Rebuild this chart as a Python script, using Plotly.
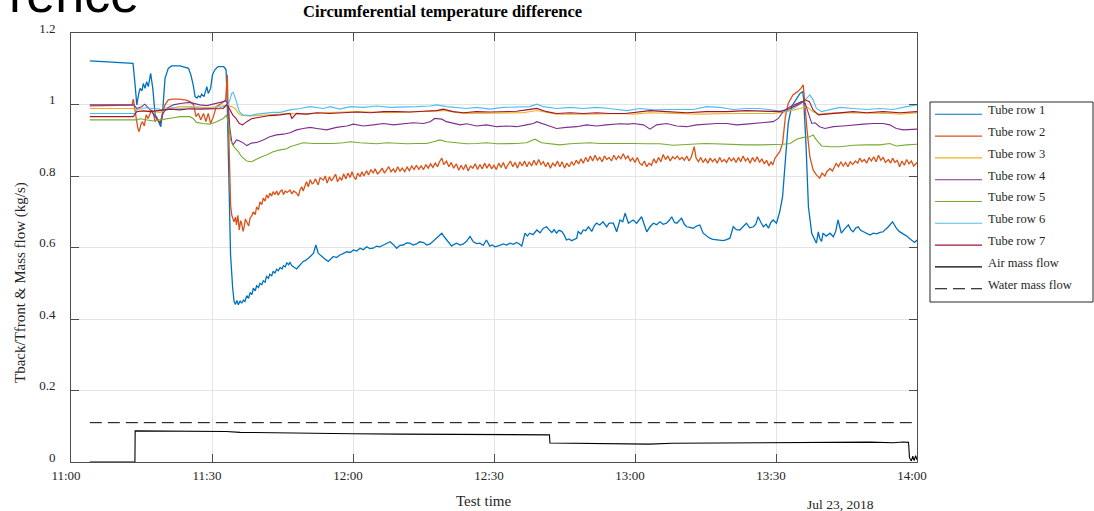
import datetime as dt
import plotly.graph_objects as go

# Test day and the clock time (minutes after 11:00) of every sample
START = dt.datetime(2018, 7, 23, 11, 0)

# (minutes after 11:00, Tback/Tfront)
TUBE_ROW_1 = [
    (4.0, 1.122), (8.0, 1.119), (13.2, 1.115), (13.6, 1.060), (14.0, 0.999), (14.4, 1.030),
    (14.7, 1.045), (15.1, 1.038), (15.4, 1.059), (15.75, 1.045), (16.1, 1.064), (16.45, 1.050),
    (16.95, 1.087), (17.4, 1.045), (17.9, 0.971), (18.3, 0.962), (18.6, 0.952), (18.9, 0.945),
    (19.1, 0.938), (19.5, 0.980), (20.0, 1.073), (20.7, 1.101), (21.4, 1.108), (23.2, 1.108),
    (25.0, 1.101), (25.5, 1.083), (26.0, 1.055), (26.4, 1.022), (26.8, 1.018), (27.1, 1.024),
    (27.5, 1.020), (27.8, 1.029), (28.3, 1.022), (28.9, 1.050), (29.2, 1.031), (29.7, 1.045),
    (30.1, 1.083), (30.6, 1.097), (31.3, 1.106), (32.5, 1.106), (33.0, 1.097), (33.25, 0.999),
    (33.6, 0.766), (33.95, 0.579), (34.4, 0.486), (34.7, 0.449), (35.0, 0.441), (35.3, 0.452),
    (35.6, 0.440), (36.0, 0.451), (36.3, 0.444), (36.7, 0.453), (37.0, 0.449), (37.4, 0.465),
    (37.8, 0.458), (38.1, 0.474), (38.5, 0.468), (38.8, 0.486), (39.2, 0.479), (39.5, 0.493),
    (39.9, 0.488), (40.2, 0.500), (40.6, 0.496), (40.9, 0.507), (41.3, 0.503), (41.6, 0.519),
    (42.0, 0.514), (42.3, 0.525), (42.7, 0.521), (43.0, 0.533), (43.4, 0.529), (43.75, 0.539),
    (44.1, 0.535), (44.5, 0.544), (44.9, 0.540), (45.2, 0.549), (45.6, 0.546), (45.9, 0.557),
    (46.3, 0.552), (46.6, 0.558), (47.0, 0.549), (47.5, 0.545), (48.0, 0.540), (48.4, 0.546),
    (48.7, 0.551), (49.1, 0.556), (49.4, 0.561), (49.8, 0.563), (50.1, 0.565), (50.5, 0.570),
    (50.9, 0.575), (51.3, 0.580), (51.6, 0.584), (52.1, 0.607), (52.6, 0.584), (53.1, 0.578),
    (53.7, 0.570), (54.2, 0.566), (54.75, 0.561), (55.3, 0.568), (55.8, 0.575), (56.5, 0.572),
    (57.2, 0.579), (57.9, 0.583), (58.65, 0.588), (59.4, 0.586), (60.1, 0.593), (60.8, 0.590),
    (61.5, 0.598), (62.2, 0.594), (62.9, 0.602), (63.6, 0.597), (64.3, 0.598), (65.0, 0.604),
    (65.7, 0.602), (66.5, 0.607), (67.2, 0.612), (67.9, 0.616), (68.6, 0.608), (69.3, 0.598),
    (70.0, 0.606), (70.7, 0.607), (71.4, 0.613), (72.1, 0.612), (72.8, 0.607), (73.5, 0.610),
    (74.2, 0.616), (75.0, 0.614), (75.7, 0.607), (76.4, 0.610), (77.1, 0.618), (77.8, 0.626),
    (78.4, 0.635), (78.9, 0.640), (79.4, 0.630), (79.9, 0.621), (80.5, 0.610), (81.0, 0.604),
    (81.5, 0.609), (82.05, 0.612), (82.8, 0.607), (83.5, 0.610), (84.2, 0.618), (84.9, 0.631),
    (85.6, 0.616), (86.3, 0.611), (87.0, 0.612), (87.7, 0.606), (88.4, 0.621), (89.1, 0.604),
    (89.6, 0.607), (90.2, 0.602), (91.1, 0.605), (92.0, 0.610), (92.7, 0.607), (93.4, 0.612),
    (94.1, 0.609), (94.8, 0.614), (95.4, 0.610), (95.9, 0.604), (96.6, 0.640), (97.1, 0.632),
    (97.6, 0.640), (98.3, 0.636), (99.1, 0.649), (99.8, 0.641), (100.5, 0.654), (101.2, 0.658),
    (101.7, 0.650), (102.3, 0.642), (102.8, 0.650), (103.3, 0.640), (103.8, 0.648), (104.4, 0.645),
    (104.9, 0.636), (105.4, 0.621), (106.0, 0.624), (106.5, 0.619), (107.0, 0.622), (107.6, 0.626),
    (107.9, 0.645), (108.5, 0.638), (109.0, 0.649), (109.5, 0.647), (110.1, 0.658), (110.8, 0.645),
    (111.3, 0.660), (111.8, 0.668), (112.5, 0.663), (113.2, 0.672), (113.97, 0.658), (114.5, 0.668),
    (115.39, 0.668), (116.1, 0.644), (116.8, 0.677), (117.4, 0.672), (117.9, 0.696), (118.6, 0.668),
    (119.6, 0.677), (120.35, 0.668), (121.4, 0.686), (122.0, 0.660), (122.5, 0.644), (123.2, 0.658),
    (123.9, 0.668), (124.6, 0.664), (125.3, 0.672), (126.0, 0.665), (126.7, 0.668), (127.3, 0.676),
    (127.8, 0.686), (128.4, 0.670), (128.9, 0.668), (129.4, 0.675), (129.9, 0.682), (130.5, 0.665),
    (131.0, 0.658), (131.7, 0.656), (132.4, 0.654), (133.1, 0.660), (133.8, 0.663), (134.5, 0.640),
    (135.2, 0.632), (135.9, 0.626), (136.6, 0.623), (137.4, 0.621), (138.1, 0.620), (138.8, 0.619),
    (139.5, 0.622), (140.2, 0.626), (140.9, 0.658), (141.6, 0.650), (142.3, 0.649), (143.0, 0.660),
    (143.7, 0.668), (144.4, 0.655), (145.2, 0.658), (145.7, 0.665), (146.2, 0.686), (146.8, 0.670),
    (147.3, 0.658), (147.9, 0.665), (148.4, 0.654), (148.9, 0.670), (149.4, 0.677), (150.1, 0.668),
    (150.8, 0.700), (151.4, 0.742), (151.9, 0.835), (152.6, 0.947), (153.3, 0.994), (154.4, 1.017),
    (155.1, 1.031), (155.7, 1.036), (155.9, 1.013), (156.4, 0.882), (156.9, 0.714), (157.6, 0.640),
    (158.3, 0.621), (158.6, 0.612), (159.0, 0.644), (159.3, 0.626), (159.7, 0.617), (160.0, 0.640),
    (160.7, 0.632), (161.5, 0.640), (162.2, 0.630), (162.7, 0.645), (163.2, 0.677), (163.9, 0.640),
    (164.6, 0.652), (165.4, 0.663), (165.9, 0.650), (166.4, 0.644), (167.0, 0.655), (167.5, 0.658),
    (168.0, 0.648), (168.6, 0.644), (169.3, 0.638), (170.0, 0.635), (170.7, 0.640), (171.4, 0.638),
    (172.1, 0.642), (172.8, 0.644), (173.4, 0.652), (173.9, 0.658), (174.8, 0.672), (175.6, 0.654),
    (176.2, 0.645), (176.7, 0.640), (177.3, 0.636), (177.8, 0.632), (178.3, 0.625), (178.8, 0.621),
    (179.5, 0.614), (180.0, 0.621),
]

TUBE_ROW_2 = [
    (4.0, 0.996), (8.0, 0.997), (13.0, 0.998), (13.26, 1.015), (13.5, 0.990), (13.9, 0.960),
    (14.2, 0.935), (14.5, 0.924), (14.9, 0.945), (15.2, 0.952), (15.6, 0.940), (16.0, 0.971),
    (16.4, 0.961), (16.8, 0.975), (17.2, 0.985), (17.6, 0.970), (17.9, 0.952), (18.4, 0.960),
    (18.9, 0.948), (19.3, 0.965), (19.7, 0.985), (20.0, 0.999), (20.7, 1.013), (21.5, 1.015),
    (23.0, 1.015), (24.5, 1.012), (25.3, 1.008), (26.1, 0.999), (26.6, 0.966), (27.1, 0.975),
    (27.6, 0.957), (28.2, 0.975), (28.7, 0.952), (29.2, 0.975), (29.7, 0.947), (30.3, 0.966),
    (30.9, 0.994), (32.0, 1.003), (32.9, 1.013), (33.25, 1.083), (33.5, 0.952), (33.75, 0.812),
    (33.96, 0.719), (34.2, 0.691), (34.67, 0.672), (35.0, 0.685), (35.2, 0.663), (35.5, 0.690),
    (35.8, 0.649), (36.1, 0.675), (36.3, 0.668), (36.6, 0.645), (36.8, 0.654), (37.1, 0.680),
    (37.4, 0.672), (37.8, 0.660), (38.1, 0.682), (38.5, 0.690), (38.8, 0.700), (39.2, 0.692),
    (39.5, 0.714), (39.9, 0.705), (40.2, 0.728), (40.6, 0.720), (40.9, 0.738), (41.3, 0.730),
    (41.6, 0.747), (42.0, 0.738), (42.3, 0.752), (42.7, 0.744), (43.0, 0.756), (43.4, 0.748),
    (43.75, 0.758), (44.1, 0.746), (44.5, 0.756), (44.9, 0.762), (45.2, 0.748), (45.6, 0.758),
    (46.0, 0.754), (46.6, 0.761), (47.0, 0.750), (47.4, 0.758), (48.0, 0.752), (48.4, 0.744),
    (48.7, 0.760), (49.1, 0.770), (49.4, 0.758), (49.8, 0.775), (50.1, 0.784), (50.5, 0.770),
    (50.9, 0.790), (51.3, 0.778), (51.6, 0.780), (52.0, 0.792), (52.6, 0.775), (53.0, 0.795),
    (53.7, 0.789), (54.1, 0.800), (54.5, 0.780), (55.0, 0.798), (55.4, 0.786), (55.8, 0.794),
    (56.3, 0.805), (56.7, 0.784), (57.2, 0.796), (57.6, 0.788), (58.0, 0.806), (58.5, 0.792),
    (58.9, 0.808), (59.4, 0.796), (59.8, 0.812), (60.1, 0.800), (60.6, 0.790), (61.0, 0.808),
    (61.5, 0.798), (61.9, 0.812), (62.3, 0.800), (62.9, 0.815), (63.3, 0.803), (63.8, 0.818),
    (64.3, 0.808), (64.7, 0.820), (65.2, 0.806), (65.7, 0.812), (66.2, 0.822), (66.7, 0.808),
    (67.2, 0.817), (67.6, 0.826), (68.1, 0.812), (68.6, 0.820), (69.0, 0.810), (69.5, 0.826),
    (70.0, 0.814), (70.5, 0.822), (71.0, 0.812), (71.5, 0.825), (72.0, 0.815), (72.5, 0.828),
    (73.0, 0.818), (73.5, 0.830), (74.0, 0.819), (74.5, 0.828), (75.0, 0.818), (75.5, 0.832),
    (76.0, 0.822), (76.5, 0.834), (77.0, 0.824), (77.5, 0.836), (78.0, 0.826), (78.4, 0.840),
    (78.9, 0.850), (79.3, 0.832), (79.9, 0.842), (80.4, 0.826), (80.9, 0.838), (81.4, 0.822),
    (82.0, 0.834), (82.5, 0.816), (83.0, 0.830), (83.5, 0.818), (84.0, 0.832), (84.5, 0.814),
    (85.0, 0.828), (85.5, 0.822), (86.0, 0.834), (86.5, 0.818), (87.0, 0.832), (87.5, 0.820),
    (88.0, 0.836), (88.5, 0.822), (89.0, 0.834), (89.5, 0.820), (90.0, 0.830), (90.5, 0.818),
    (91.0, 0.836), (91.5, 0.824), (92.0, 0.838), (92.5, 0.820), (93.0, 0.832), (93.5, 0.842),
    (94.0, 0.826), (94.5, 0.838), (95.0, 0.822), (95.5, 0.840), (96.0, 0.828), (96.5, 0.842),
    (97.0, 0.826), (97.5, 0.840), (98.0, 0.828), (98.5, 0.844), (99.0, 0.830), (99.5, 0.846),
    (100.0, 0.832), (100.5, 0.840), (101.0, 0.826), (101.5, 0.838), (102.0, 0.822), (102.5, 0.836),
    (103.0, 0.828), (103.5, 0.842), (104.0, 0.826), (104.5, 0.840), (105.0, 0.822), (105.5, 0.836),
    (106.0, 0.826), (106.5, 0.840), (107.0, 0.830), (107.5, 0.844), (108.0, 0.834), (108.5, 0.848),
    (109.0, 0.836), (109.5, 0.852), (110.0, 0.840), (110.5, 0.856), (111.0, 0.842), (111.5, 0.858),
    (112.0, 0.844), (112.5, 0.852), (113.0, 0.840), (113.5, 0.856), (114.0, 0.846), (114.5, 0.852),
    (115.0, 0.842), (115.5, 0.858), (116.0, 0.846), (116.5, 0.856), (117.0, 0.848), (117.5, 0.862),
    (118.0, 0.848), (118.5, 0.856), (119.0, 0.842), (119.5, 0.850), (120.0, 0.838), (120.5, 0.852),
    (121.0, 0.836), (121.5, 0.830), (122.0, 0.842), (122.5, 0.826), (123.0, 0.836), (123.5, 0.830),
    (124.0, 0.848), (124.5, 0.836), (125.0, 0.852), (125.5, 0.840), (126.0, 0.860), (126.5, 0.846),
    (127.0, 0.856), (127.5, 0.842), (128.0, 0.854), (128.5, 0.848), (129.0, 0.856), (129.5, 0.846),
    (130.0, 0.852), (130.5, 0.844), (131.0, 0.856), (131.5, 0.842), (132.0, 0.854), (132.6, 0.882),
    (133.0, 0.850), (133.5, 0.840), (134.0, 0.852), (134.5, 0.838), (135.0, 0.848), (135.5, 0.836),
    (136.0, 0.850), (136.5, 0.840), (137.0, 0.848), (137.5, 0.836), (138.0, 0.852), (138.5, 0.840),
    (139.0, 0.846), (139.5, 0.838), (140.0, 0.852), (140.5, 0.842), (141.0, 0.850), (141.5, 0.838),
    (142.0, 0.852), (142.5, 0.840), (143.0, 0.856), (143.5, 0.842), (144.0, 0.850), (144.5, 0.836),
    (145.0, 0.852), (145.5, 0.840), (146.0, 0.854), (146.5, 0.838), (147.0, 0.848), (147.5, 0.834),
    (148.0, 0.844), (148.5, 0.828), (148.9, 0.840), (149.3, 0.831), (149.8, 0.850), (150.1, 0.855),
    (150.8, 0.868), (151.4, 0.891), (152.0, 0.966), (152.6, 1.003), (153.6, 1.027), (154.6, 1.036),
    (155.3, 1.045), (155.8, 1.055), (156.0, 1.022), (156.6, 0.929), (157.2, 0.854), (157.9, 0.817),
    (158.6, 0.803), (159.3, 0.794), (159.8, 0.808), (160.4, 0.800), (160.8, 0.812), (161.5, 0.821),
    (162.0, 0.814), (162.8, 0.835), (163.3, 0.826), (163.8, 0.840), (164.3, 0.828), (164.8, 0.838),
    (165.3, 0.826), (165.8, 0.840), (166.3, 0.832), (166.9, 0.842), (167.4, 0.836), (167.8, 0.850),
    (168.3, 0.840), (168.8, 0.846), (169.3, 0.836), (169.8, 0.852), (170.3, 0.842), (170.8, 0.854),
    (171.3, 0.840), (171.8, 0.858), (172.3, 0.844), (172.8, 0.852), (173.3, 0.838), (173.9, 0.846),
    (174.4, 0.836), (174.8, 0.850), (175.3, 0.838), (175.8, 0.844), (176.3, 0.826), (176.8, 0.842),
    (177.3, 0.830), (177.8, 0.846), (178.3, 0.834), (178.8, 0.842), (179.3, 0.828), (180.0, 0.838),
]

TUBE_ROW_3 = [
    (4.0, 0.989), (13.3, 0.989), (14.5, 0.985), (16.1, 0.982), (17.5, 0.980), (18.9, 0.978),
    (20.4, 0.985), (21.8, 0.991), (23.2, 0.994), (26.0, 0.994), (28.9, 0.991), (31.7, 0.994),
    (33.1, 0.997), (34.2, 0.994), (34.9, 0.989), (35.6, 0.975), (36.3, 0.969), (38.1, 0.968),
    (40.2, 0.969), (42.3, 0.971), (44.5, 0.973), (46.6, 0.975), (50.1, 0.973), (53.7, 0.977),
    (60.8, 0.980), (67.9, 0.977), (75.0, 0.980), (79.2, 0.983), (83.5, 0.975), (89.1, 0.975),
    (96.2, 0.977), (99.1, 0.983), (103.3, 0.973), (110.1, 0.973), (116.8, 0.975), (119.6, 0.973),
    (123.2, 0.977), (133.8, 0.973), (140.9, 0.975), (149.4, 0.975), (152.3, 0.980), (155.1, 0.989),
    (156.5, 0.994), (157.9, 0.980), (159.3, 0.973), (162.2, 0.977), (169.3, 0.977), (174.2, 0.975),
    (176.4, 0.973), (180.0, 0.977),
]

TUBE_ROW_4 = [
    (4.0, 0.999), (13.3, 0.999), (14.0, 0.989), (15.0, 0.994), (15.7, 1.001), (16.5, 0.989),
    (17.2, 0.980), (17.9, 0.966), (18.6, 0.952), (19.0, 0.947), (19.6, 0.975), (20.3, 0.989),
    (21.8, 0.999), (23.2, 1.003), (25.3, 1.006), (27.4, 0.999), (28.9, 0.997), (30.3, 1.001),
    (31.7, 1.006), (33.0, 1.010), (33.5, 0.999), (33.8, 0.933), (34.2, 0.896), (34.5, 0.887),
    (35.2, 0.901), (35.9, 0.898), (36.7, 0.892), (37.4, 0.885), (38.4, 0.892), (39.5, 0.894),
    (40.9, 0.901), (42.3, 0.910), (43.7, 0.915), (45.2, 0.917), (46.6, 0.921), (48.0, 0.929),
    (49.4, 0.933), (50.9, 0.936), (52.3, 0.933), (54.4, 0.929), (56.5, 0.936), (58.7, 0.940),
    (60.1, 0.945), (62.2, 0.940), (64.3, 0.943), (66.5, 0.947), (68.6, 0.943), (70.7, 0.947),
    (72.8, 0.949), (75.0, 0.947), (76.4, 0.952), (77.4, 0.961), (78.9, 0.959), (79.9, 0.952),
    (81.3, 0.947), (82.8, 0.943), (84.2, 0.946), (86.3, 0.940), (88.4, 0.943), (90.6, 0.938),
    (92.7, 0.940), (94.8, 0.938), (96.9, 0.943), (98.4, 0.947), (99.1, 0.952), (100.1, 0.947),
    (101.9, 0.938), (103.3, 0.933), (105.4, 0.936), (107.6, 0.938), (109.7, 0.943), (111.8, 0.940),
    (113.9, 0.943), (116.8, 0.946), (118.6, 0.945), (119.6, 0.947), (121.8, 0.943), (123.2, 0.931),
    (124.6, 0.943), (126.7, 0.947), (128.9, 0.940), (131.0, 0.938), (133.1, 0.943), (135.2, 0.945),
    (137.4, 0.947), (139.5, 0.947), (141.6, 0.943), (143.7, 0.945), (145.9, 0.947), (148.0, 0.949),
    (149.4, 0.952), (150.5, 0.961), (151.5, 0.980), (153.0, 0.994), (154.4, 1.003), (155.4, 1.008),
    (156.2, 1.003), (156.9, 0.975), (157.6, 0.947), (158.3, 0.949), (159.3, 0.938), (160.4, 0.933),
    (162.2, 0.938), (164.3, 0.940), (166.4, 0.943), (168.6, 0.945), (170.7, 0.947), (172.8, 0.947),
    (174.2, 0.943), (175.6, 0.933), (177.1, 0.929), (180.0, 0.931),
]

TUBE_ROW_5 = [
    (4.0, 0.957), (13.97, 0.957), (14.7, 0.960), (16.1, 0.957), (17.5, 0.954), (18.9, 0.957),
    (20.4, 0.961), (21.8, 0.963), (23.2, 0.966), (25.3, 0.966), (26.0, 0.961), (26.7, 0.950),
    (28.1, 0.947), (29.6, 0.945), (31.0, 0.952), (32.4, 0.961), (33.1, 0.971), (33.6, 0.938),
    (33.96, 0.901), (34.4, 0.887), (34.9, 0.878), (35.6, 0.868), (36.3, 0.854), (37.4, 0.842),
    (38.4, 0.840), (39.5, 0.848), (40.6, 0.854), (41.6, 0.859), (43.0, 0.868), (44.5, 0.873),
    (45.9, 0.876), (46.6, 0.882), (48.0, 0.887), (49.4, 0.893), (51.6, 0.891), (53.7, 0.890),
    (55.8, 0.891), (58.0, 0.893), (59.4, 0.896), (61.5, 0.893), (63.6, 0.891), (65.0, 0.890),
    (67.2, 0.893), (69.3, 0.891), (71.4, 0.890), (73.5, 0.891), (75.7, 0.891), (77.1, 0.896),
    (78.5, 0.901), (79.9, 0.896), (82.05, 0.893), (84.2, 0.890), (86.3, 0.891), (88.4, 0.893),
    (90.6, 0.890), (92.7, 0.890), (94.8, 0.891), (96.9, 0.893), (98.7, 0.903), (100.1, 0.893),
    (101.9, 0.890), (104.0, 0.887), (106.2, 0.890), (108.3, 0.891), (110.4, 0.893), (112.5, 0.891),
    (114.6, 0.891), (116.8, 0.893), (119.6, 0.891), (122.5, 0.890), (125.3, 0.890), (128.1, 0.886),
    (131.0, 0.887), (133.8, 0.890), (135.2, 0.891), (138.1, 0.889), (140.9, 0.887), (143.7, 0.887),
    (146.6, 0.887), (149.4, 0.887), (151.5, 0.889), (153.0, 0.891), (154.4, 0.903), (155.8, 0.908),
    (157.2, 0.910), (157.9, 0.915), (158.6, 0.901), (159.7, 0.884), (161.5, 0.882), (163.6, 0.882),
    (166.4, 0.886), (169.3, 0.887), (172.1, 0.887), (174.2, 0.891), (175.6, 0.884), (177.8, 0.887),
    (180.0, 0.889),
]

TUBE_ROW_6 = [
    (4.0, 0.975), (13.6, 0.975), (14.3, 0.989), (16.1, 0.991), (17.5, 0.989), (18.9, 0.987),
    (19.6, 0.980), (20.35, 0.989), (21.8, 0.991), (23.2, 0.989), (26.0, 0.991), (28.9, 0.989),
    (31.7, 0.991), (33.5, 0.999), (34.2, 1.031), (34.5, 1.034), (35.1, 1.013), (35.8, 0.980),
    (36.6, 0.971), (38.1, 0.969), (39.5, 0.973), (40.9, 0.975), (43.0, 0.978), (44.5, 0.978),
    (46.6, 0.985), (48.7, 0.989), (50.9, 0.994), (53.7, 0.989), (55.1, 0.994), (57.2, 0.987),
    (59.4, 0.994), (62.2, 0.992), (65.0, 0.996), (67.9, 0.992), (70.7, 0.994), (73.5, 0.994),
    (76.4, 0.996), (77.8, 0.999), (79.9, 0.994), (82.05, 0.992), (84.2, 0.989), (86.3, 0.992),
    (89.1, 0.987), (92.0, 0.992), (94.8, 0.992), (97.6, 0.994), (99.1, 1.001), (100.5, 0.994),
    (103.3, 0.989), (106.2, 0.992), (109.0, 0.989), (111.8, 0.992), (114.6, 0.989), (118.2, 0.983),
    (121.1, 0.989), (123.9, 0.985), (126.7, 0.986), (129.6, 0.985), (132.4, 0.986), (135.2, 0.994),
    (138.1, 0.992), (140.9, 0.986), (143.7, 0.989), (146.6, 0.989), (149.4, 0.985), (151.9, 0.980),
    (153.7, 0.989), (155.4, 1.003), (156.5, 1.017), (157.2, 1.027), (157.9, 1.013), (158.6, 0.989),
    (159.7, 0.980), (161.5, 0.986), (163.6, 0.992), (166.4, 0.989), (169.3, 0.986), (172.1, 0.989),
    (174.9, 0.986), (177.8, 0.994), (180.0, 0.999),
]

TUBE_ROW_7 = [
    (4.0, 0.966), (13.26, 0.966), (13.97, 0.980), (15.4, 0.982), (16.8, 0.980), (18.2, 0.982),
    (19.65, 0.985), (21.1, 0.987), (23.2, 0.985), (25.3, 0.988), (27.4, 0.987), (30.1, 0.988),
    (32.4, 0.989), (33.1, 0.999), (33.7, 0.989), (34.4, 0.971), (35.1, 0.961), (35.8, 0.947),
    (36.5, 0.943), (37.4, 0.952), (38.4, 0.960), (39.5, 0.963), (40.9, 0.966), (42.3, 0.969),
    (44.5, 0.971), (46.6, 0.975), (47.0, 0.961), (48.0, 0.975), (50.1, 0.973), (52.3, 0.977),
    (55.0, 0.975), (57.9, 0.977), (60.8, 0.979), (63.6, 0.977), (66.5, 0.980), (69.3, 0.980),
    (72.1, 0.979), (75.0, 0.981), (77.8, 0.983), (79.2, 0.987), (81.3, 0.980), (83.5, 0.977),
    (86.3, 0.980), (89.1, 0.979), (92.0, 0.980), (94.8, 0.981), (96.9, 0.985), (99.1, 0.989),
    (101.2, 0.980), (103.3, 0.975), (106.2, 0.977), (109.0, 0.975), (111.8, 0.977), (114.6, 0.975),
    (117.9, 0.975), (123.2, 0.983), (126.7, 0.980), (131.0, 0.977), (135.2, 0.980), (139.5, 0.980),
    (143.7, 0.983), (148.0, 0.980), (150.8, 0.980), (153.0, 0.989), (155.1, 1.003), (156.2, 1.013),
    (157.1, 1.008), (157.9, 0.985), (159.0, 0.971), (160.7, 0.973), (163.6, 0.977), (166.4, 0.980),
    (169.3, 0.977), (172.8, 0.980), (176.4, 0.977), (180.0, 0.980),
]

# (minutes after 11:00, kg/s)
AIR_MASS_FLOW = [
    (4.0, 0.0), (13.6, 0.0), (13.65, 0.087), (20.0, 0.087), (25.0, 0.0865), (30.0, 0.086),
    (33.0, 0.0855), (36.0, 0.083), (40.0, 0.082), (48.0, 0.0815), (55.0, 0.080), (60.0, 0.079),
    (70.0, 0.078), (80.0, 0.077), (90.0, 0.0765), (95.0, 0.077), (101.8, 0.076), (101.9, 0.053),
    (110.0, 0.052), (120.0, 0.052), (123.0, 0.050), (128.0, 0.0525), (135.0, 0.053), (142.0, 0.054),
    (150.0, 0.055), (160.0, 0.0555), (170.0, 0.0555), (175.0, 0.054), (177.0, 0.056), (178.2, 0.055),
    (178.4, 0.012), (178.8, 0.003), (179.1, 0.016), (179.4, 0.004), (179.7, 0.018), (180.0, 0.006),
]

WATER_MASS_FLOW = [(4.0, 0.110), (60.0, 0.110), (120.0, 0.110), (180.0, 0.110)]

# name, samples, colour, dash, line width
SERIES = [
    ("Tube row 1", TUBE_ROW_1, "#0072BD", "solid", 1.3),
    ("Tube row 2", TUBE_ROW_2, "#D95319", "solid", 1.3),
    ("Tube row 3", TUBE_ROW_3, "#EDB120", "solid", 1.1),
    ("Tube row 4", TUBE_ROW_4, "#7E2F8E", "solid", 1.1),
    ("Tube row 5", TUBE_ROW_5, "#77AC30", "solid", 1.1),
    ("Tube row 6", TUBE_ROW_6, "#4DBEEE", "solid", 1.1),
    ("Tube row 7", TUBE_ROW_7, "#A2142F", "solid", 1.1),
    ("Air mass flow", AIR_MASS_FLOW, "#000000", "solid", 1.1),
    ("Water mass flow", WATER_MASS_FLOW, "#000000", "12px,6px", 1.0),
]

SERIF = "Liberation Serif"
W, H = 1094, 511
L, R, T, B = 71, 177, 33, 49
PW, PH = W - L - R, H - T - B


def clock(minutes):
    return [START + dt.timedelta(minutes=m) for m in minutes]


def px_x(px):
    return (px - L) / PW


def px_y(py):
    return (H - B - py) / PH


fig = go.Figure()
for name, pts, color, dash, width in SERIES:
    mins, vals = zip(*pts)
    fig.add_trace(go.Scatter(
        x=clock(mins), y=list(vals), mode="lines", name=name,
        line=dict(color=color, width=width, dash=dash),
        cliponaxis=False, showlegend=False,
    ))

# Boxed legend on the right
shapes = [dict(type="rect", xref="paper", yref="paper",
               x0=px_x(930), x1=px_x(1093), y0=px_y(302), y1=px_y(102),
               line=dict(color="#262626", width=1), fillcolor="white", layer="below")]
annotations = []
for i, (name, _, color, dash, _w) in enumerate(SERIES):
    ly = 114.3 + 21.8 * i
    shapes.append(dict(type="line", xref="paper", yref="paper",
                       x0=px_x(935), x1=px_x(982), y0=px_y(ly), y1=px_y(ly),
                       line=dict(color=color, width=1.1, dash=dash)))
    annotations.append(dict(text=name, xref="paper", yref="paper", x=px_x(986), y=px_y(ly - 4),
                            xanchor="left", yanchor="middle", showarrow=False,
                            font=dict(family=SERIF, size=12.5, color="#262626")))

annotations += [
    dict(text="<b>Circumferential temperature difference</b>", xref="paper", yref="paper",
         x=px_x(442), y=px_y(12), xanchor="center", yanchor="middle", showarrow=False,
         font=dict(family=SERIF, size=16.5, color="#000000")),
    dict(text="Tback/Tfront & Mass flow (kg/s)", xref="paper", yref="paper",
         x=px_x(20), y=px_y(283), xanchor="center", yanchor="middle", textangle=-90,
         showarrow=False, font=dict(family=SERIF, size=15, color="#262626")),
    dict(text="Test time", xref="paper", yref="paper", x=px_x(484), y=px_y(501),
         xanchor="center", yanchor="middle", showarrow=False,
         font=dict(family=SERIF, size=15, color="#262626")),
    dict(text="Jul 23, 2018", xref="paper", yref="paper", x=px_x(840), y=px_y(504),
         xanchor="center", yanchor="middle", showarrow=False,
         font=dict(family=SERIF, size=13.5, color="#262626")),
    dict(text="rence", xref="paper", yref="paper", x=px_x(7), y=px_y(-6),
         xanchor="left", yanchor="middle", showarrow=False,
         font=dict(family="Liberation Sans", size=52, color="#000000")),
]

axis_common = dict(
    showgrid=True, gridcolor="#e4e4e4", gridwidth=1, zeroline=False,
    showline=True, linecolor="#4d4d4d", linewidth=1, mirror="ticks",
    ticks="inside", ticklen=8, tickcolor="#4d4d4d", tickwidth=1,
    tickfont=dict(family=SERIF, size=13, color="#262626"),
)

fig.update_layout(
    width=W, height=H,
    margin=dict(l=L, r=R, t=T, b=B),
    plot_bgcolor="white", paper_bgcolor="white",
    showlegend=False,
    shapes=shapes, annotations=annotations,
    xaxis=dict(type="date", range=[START, START + dt.timedelta(hours=3)],
               tick0=START, dtick=30 * 60 * 1000, tickformat="%H:%M",
               ticklabelshift=-5, ticklabelstandoff=1, **axis_common),
    yaxis=dict(range=[0, 1.2], tick0=0, dtick=0.2, ticklabelshift=-5,
               ticklabelstandoff=12, **axis_common),
)

fig.write_html("out.html")
